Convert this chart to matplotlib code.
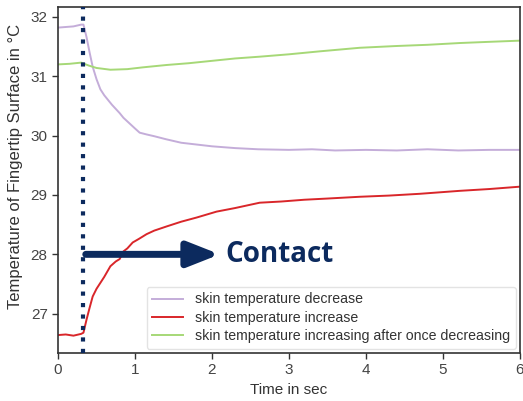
import numpy as np
import matplotlib
matplotlib.use("Agg")
import matplotlib.pyplot as plt

plt.rcParams['font.family'] = ['Liberation Sans', 'DejaVu Sans']

# (time in sec, temperature in C)
t_dec = [0, 0.1, 0.2, 0.3, 0.33, 0.37, 0.41, 0.45, 0.5, 0.55, 0.6, 0.65, 0.7, 0.75, 0.8, 0.85,
         0.9, 1.0, 1.06, 1.15, 1.25, 1.4, 1.6, 1.8, 2.0, 2.3, 2.6, 3.0, 3.3, 3.6, 4.0, 4.4,
         4.8, 5.2, 5.6, 6.0]
temp_dec = [31.82, 31.83, 31.84, 31.87, 31.87, 31.66, 31.4, 31.16, 30.95, 30.78, 30.68, 30.6,
            30.52, 30.45, 30.38, 30.3, 30.24, 30.12, 30.05, 30.02, 29.99, 29.94, 29.88, 29.85,
            29.82, 29.79, 29.77, 29.76, 29.77, 29.75, 29.76, 29.75, 29.77, 29.75, 29.76, 29.76]

t_inc = [0, 0.1, 0.2, 0.3, 0.33, 0.37, 0.41, 0.45, 0.5, 0.55, 0.6, 0.68, 0.75, 0.8, 0.85,
         0.9, 0.97, 1.05, 1.15, 1.25, 1.41, 1.6, 1.8, 2.06, 2.3, 2.62, 2.9, 3.2, 3.5, 3.92,
         4.3, 4.7, 5.22, 5.6, 6.0]
temp_inc = [26.64, 26.65, 26.63, 26.66, 26.68, 26.9, 27.1, 27.29, 27.42, 27.52, 27.62, 27.8,
            27.88, 27.92, 28.05, 28.1, 28.2, 28.26, 28.34, 28.4, 28.47, 28.55, 28.62, 28.72,
            28.78, 28.87, 28.89, 28.92, 28.94, 28.97, 28.99, 29.02, 29.07, 29.1, 29.14]

t_inc2 = [0, 0.15, 0.3, 0.4, 0.5, 0.68, 0.9, 1.1, 1.41, 1.7, 2.0, 2.3, 2.62, 3.0, 3.4,
          3.92, 4.4, 4.8, 5.22, 5.6, 6.0]
temp_inc2 = [31.2, 31.21, 31.23, 31.18, 31.14, 31.11, 31.12, 31.15, 31.19, 31.22, 31.26,
             31.3, 31.33, 31.37, 31.42, 31.48, 31.51, 31.53, 31.56, 31.58, 31.6]

contact_t = 0.33
navy = '#0c2a5e'

fig = plt.figure(figsize=(5.23, 4.01), dpi=100)
ax = fig.add_axes([0.111, 0.12, 0.883, 0.863])

ax.plot(t_dec, temp_dec, color='#c4add9', lw=1.4, label='skin temperature decrease')
ax.plot(t_inc, temp_inc, color='#d9262a', lw=1.4, label='skin temperature increase')
ax.plot(t_inc2, temp_inc2, color='#a6d877', lw=1.4,
        label='skin temperature increasing after once decreasing')

ax.axvline(contact_t, color=navy, lw=3, linestyle=(0, (1, 1.75)), zorder=5)

ax.annotate('', xy=(2.1, 28.0), xytext=(contact_t + 0.03, 28.0),
            arrowprops=dict(arrowstyle='-|>,head_length=0.38,head_width=0.15',
                            mutation_scale=50, lw=5, color=navy, shrinkA=0, shrinkB=0))
ax.text(2.17, 28.0, 'Contact', color=navy, fontsize=20, fontweight='bold',
        family=['Open Sans', 'DejaVu Sans'], va='center', ha='left')

ax.set_xlim(0, 6)
ax.set_ylim(26.34, 32.17)
ax.set_xticks(range(0, 7))
ax.set_yticks(range(27, 33))
ax.tick_params(direction='out', length=4, width=1, colors='#333333', labelsize=11,
               labelcolor='#444444')
for s in ax.spines.values():
    s.set_color('#333333')
    s.set_linewidth(1.2)

ax.set_xlabel('Time in sec', fontsize=11, color='#333333', labelpad=4)
ax.set_ylabel('Temperature of Fingertip Surface in °C', fontsize=12, color='#333333')
ax.yaxis.set_label_coords(-0.076, 0.54)

leg = ax.legend(loc='lower right', fontsize=10.2, frameon=True, fancybox=True,
                borderaxespad=0.3, handlelength=2.2, labelspacing=0.3, borderpad=0.4)
leg.get_frame().set_edgecolor('#dddddd')
for txt in leg.get_texts():
    txt.set_color('#333333')

fig.savefig('out.png', dpi=100)
